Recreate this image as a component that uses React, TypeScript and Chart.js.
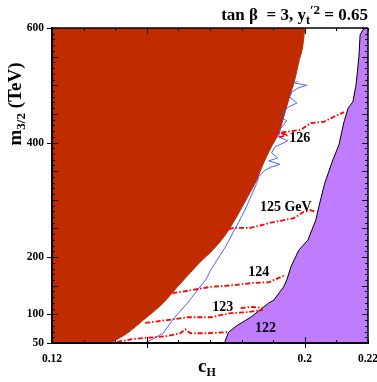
import React, { useEffect, useRef } from "react";
import { Chart, registerables } from "chart.js";

Chart.register(...registerables);

// ---- axis ticks ----
const xTickValues = [0.12, 0.2, 0.22];
const xTickLabels = ["0.12", "0.2", "0.22"];
const yTickValues = [50, 100, 200, 400, 600];

// ---- excluded (orange) region boundary: c_H vs m_3/2 ----
const excludedC = [0.12, 0.139, 0.1394, 0.1438, 0.1489, 0.1552, 0.1597, 0.1638, 0.1672, 0.1708, 0.1749, 0.1787, 0.1819, 0.1848, 0.1867, 0.1889, 0.1921, 0.1937, 0.1952, 0.1968, 0.1981, 0.1994, 0.2];
const excludedM = [50, 50, 52, 67, 90, 120, 148, 173, 193, 212, 239, 273, 305, 335, 361, 387, 422, 452, 480, 509, 541, 570, 600];

// ---- purple region boundary ----
const purpleC = [0.1746, 0.1749, 0.1759, 0.1787, 0.1829, 0.1886, 0.1902, 0.1933, 0.1943, 0.1956, 0.1981, 0.201, 0.2035, 0.2044, 0.2063, 0.2089, 0.2108, 0.2124, 0.2137, 0.2152, 0.2162, 0.2171, 0.2175, 0.2184, 0.2194, 0.22];
const purpleM = [50, 55, 69, 81, 95, 120, 125, 148, 160, 183, 212, 230, 265, 287, 329, 370, 396, 436, 460, 471, 500, 548, 588, 597, 600, 600];

// ---- blue curve ----
const blueC = [0.1495, 0.1552, 0.1581, 0.16, 0.1629, 0.166, 0.1686, 0.1702, 0.1749, 0.1781, 0.1806, 0.1829, 0.1848, 0.1854, 0.187, 0.1892, 0.1921, 0.1886, 0.1914, 0.1895, 0.1905, 0.1946, 0.1917, 0.1924, 0.1943, 0.1927, 0.193, 0.1949, 0.1975, 0.1952, 0.1959, 0.1978, 0.2006, 0.1968, 0.1978];
const blueM = [50, 67, 90, 102, 120, 142, 160, 177, 218, 251, 277, 305, 329, 340, 350, 357, 362, 368, 373, 382, 392, 403, 410, 425, 438, 443, 453, 462, 469, 480, 488, 495, 500, 504, 507];

// ---- Higgs mass contours (red dash-dot) ----
const mh122C = [0.1406, 0.1457, 0.1521, 0.1565, 0.1606, 0.1622, 0.1638, 0.1692, 0.1756];
const mh122M = [52, 57, 60, 62, 67, 74, 67, 67, 69];
const mh123C = [0.1495, 0.1565, 0.1629, 0.1702, 0.1765, 0.1819, 0.1867];
const mh123M = [85, 90, 95, 95, 102, 104, 108];
const mh123bC = [0.1797, 0.1835, 0.1867];
const mh123bM = [111, 113, 111];
const mh124C = [0.1581, 0.1638, 0.1702, 0.1775, 0.1838, 0.1886, 0.194];
const mh124M = [137, 142, 148, 151, 155, 156, 169];
const mh125C = [0.1727, 0.1775, 0.1829, 0.1892, 0.1965, 0.1997, 0.2019, 0.2035];
const mh125M = [244, 251, 251, 260, 268, 279, 282, 279];
const mh126C = [0.1886, 0.1924, 0.1946, 0.1917, 0.1933, 0.1987, 0.2019, 0.206, 0.2092, 0.2124];
const mh126M = [408, 410, 413, 417, 418, 422, 434, 436, 445, 453];

// ---- contour labels ----
const contourLabels = ["126", "125 GeV", "124", "123", "122"];
const contourLabelC = [0.1984, 0.194, 0.1854, 0.174, 0.1876];
const contourLabelM = [408, 286, 174, 113, 76];

const SERIF = "'Liberation Serif', 'Times New Roman', serif";
const ORANGE = "rgb(192,44,0)";
const PURPLE = "rgb(192,124,255)";
const RED = "#ff0000";
const BLUE = "#3a55ff";

const pts = (xs: number[], ys: number[]) => xs.map((x, i) => ({ x, y: ys[i] }));

function drawRuns(ctx: CanvasRenderingContext2D, runs: { t: string; size: number; dy: number }[], x: number, y: number, align: "left" | "right" | "center") {
  let total = 0;
  for (const r of runs) {
    ctx.font = `bold ${r.size}px ${SERIF}`;
    total += ctx.measureText(r.t).width;
  }
  let cx = align === "left" ? x : align === "right" ? x - total : x - total / 2;
  for (const r of runs) {
    ctx.font = `bold ${r.size}px ${SERIF}`;
    ctx.fillText(r.t, cx, y + r.dy);
    cx += ctx.measureText(r.t).width;
  }
}

const decorPlugin = {
  id: "decor",
  afterDatasetsDraw(chart: any) {
    const { ctx, scales } = chart;
    const x = scales.x, y = scales.y;
    ctx.save();
    ctx.fillStyle = "#000";
    ctx.textAlign = "center";
    ctx.textBaseline = "middle";
    ctx.font = `bold 14px ${SERIF}`;
    contourLabels.forEach((t, i) => {
      ctx.fillText(t, x.getPixelForValue(contourLabelC[i]), y.getPixelForValue(contourLabelM[i]));
    });
    ctx.restore();
  },
  afterDraw(chart: any) {
    const { ctx, chartArea, scales } = chart;
    const { left, right, top, bottom } = chartArea;
    const x = scales.x, y = scales.y;
    ctx.save();
    ctx.strokeStyle = "#000";
    ctx.lineWidth = 1;
    const seg = (x1: number, y1: number, x2: number, y2: number) => {
      ctx.beginPath();
      ctx.moveTo(x1, y1);
      ctx.lineTo(x2, y2);
      ctx.stroke();
    };
    for (let v = 50; v <= 600; v += 10) {
      const py = Math.round(y.getPixelForValue(v)) + 0.5;
      const len = v % 50 === 0 ? 6 : 3;
      seg(left, py, left + len, py);
      seg(right, py, right - len, py);
    }
    for (const v of yTickValues) {
      const py = Math.round(y.getPixelForValue(v)) + 0.5;
      seg(left - 5, py, left, py);
    }
    for (let i = 12; i <= 22; i++) {
      const px = Math.round(x.getPixelForValue(i / 100)) + 0.5;
      const len = i % 5 === 0 ? 6 : 3;
      seg(px, bottom, px, bottom - len);
      seg(px, top, px, top + len);
    }
    for (const v of [0.15, 0.2]) {
      const px = Math.round(x.getPixelForValue(v)) + 0.5;
      seg(px, bottom, px, bottom + 5);
    }
    ctx.lineWidth = 1.5;
    seg(left, top, right, top);
    seg(right, top, right, bottom);
    ctx.lineWidth = 2;
    seg(left, top - 1, left, bottom + 1);
    seg(left - 1, bottom, right + 1, bottom);

    // titles
    ctx.fillStyle = "#000";
    ctx.textBaseline = "alphabetic";
    drawRuns(ctx, [
      { t: "tan β  = 3, y", size: 17, dy: 0 },
      { t: "t", size: 12, dy: 4 },
      { t: "′2", size: 13, dy: -6 },
      { t: " = 0.65", size: 17, dy: 0 },
    ], 368, 20, "right");

    drawRuns(ctx, [
      { t: "c", size: 19, dy: 0 },
      { t: "H", size: 12, dy: 4 },
    ], 198, 372, "left");

    ctx.save();
    ctx.translate(21, 104);
    ctx.rotate(-Math.PI / 2);
    drawRuns(ctx, [
      { t: "m", size: 19, dy: 0 },
      { t: "3/2", size: 13, dy: 4 },
      { t: " (TeV)", size: 19, dy: 0 },
    ], 0, 0, "center");
    ctx.restore();
    ctx.restore();
  },
};

export default function App() {
  const ref = useRef<HTMLCanvasElement | null>(null);
  useEffect(() => {
    document.body.style.margin = "0";
    const canvas = ref.current;
    if (!canvas) return;
    const redLine = (xs: number[], ys: number[]) => ({
      type: "line" as const,
      data: pts(xs, ys),
      borderColor: RED,
      borderWidth: 1.8,
      borderDash: [5, 2, 1.5, 2],
      pointRadius: 0,
      fill: false,
      tension: 0,
    });
    const chart = new Chart(canvas, {
      type: "line",
      data: {
        datasets: [
          redLine(mh126C, mh126M),
          redLine(mh125C, mh125M),
          redLine(mh124C, mh124M),
          redLine(mh123C, mh123M),
          redLine(mh123bC, mh123bM),
          redLine(mh122C, mh122M),
          {
            data: pts(blueC, blueM),
            borderColor: BLUE,
            borderWidth: 0.9,
            pointRadius: 0,
            fill: false,
            tension: 0,
          },
          {
            data: pts(purpleC, purpleM),
            borderColor: "#000",
            borderWidth: 1,
            backgroundColor: PURPLE,
            pointRadius: 0,
            fill: "start",
            tension: 0,
          },
          {
            data: pts(excludedC, excludedM),
            borderColor: ORANGE,
            borderWidth: 1,
            backgroundColor: ORANGE,
            pointRadius: 0,
            fill: "end",
            cubicInterpolationMode: "monotone",
          },
        ] as any,
      },
      options: {
        responsive: false,
        animation: false,
        events: [],
        layout: { padding: { top: 28, right: 9, left: 0, bottom: 0 } },
        plugins: { legend: { display: false }, tooltip: { enabled: false }, title: { display: false } },
        scales: {
          x: {
            type: "linear",
            min: 0.12,
            max: 0.22,
            grid: { display: false, drawTicks: false },
            border: { display: false },
            afterBuildTicks: (s: any) => {
              s.ticks = xTickValues.map((v) => ({ value: v }));
            },
            afterFit: (s: any) => {
              s.height = 39;
              s.paddingLeft = 0;
              s.paddingRight = 0;
            },
            ticks: {
              autoSkip: false,
              maxRotation: 0,
              padding: 9,
              color: "#000",
              font: { family: SERIF, size: 11.5, weight: "bold" },
              callback: (v: any) => {
                const i = xTickValues.findIndex((t) => Math.abs(t - Number(v)) < 1e-9);
                return i >= 0 ? xTickLabels[i] : "";
              },
            },
          },
          y: {
            type: "linear",
            min: 50,
            max: 600,
            grid: { display: false, drawTicks: false },
            border: { display: false },
            afterBuildTicks: (s: any) => {
              s.ticks = yTickValues.map((v) => ({ value: v }));
            },
            afterFit: (s: any) => {
              s.width = 52;
              s.paddingTop = 0;
              s.paddingBottom = 0;
            },
            ticks: {
              autoSkip: false,
              padding: 8,
              color: "#000",
              font: { family: SERIF, size: 11.5, weight: "bold" },
              callback: (v: any) => String(v),
            },
          },
        },
      } as any,
      plugins: [decorPlugin],
    });
    return () => chart.destroy();
  }, []);
  return <canvas ref={ref} width={377} height={382} style={{ display: "block" }} />;
}
